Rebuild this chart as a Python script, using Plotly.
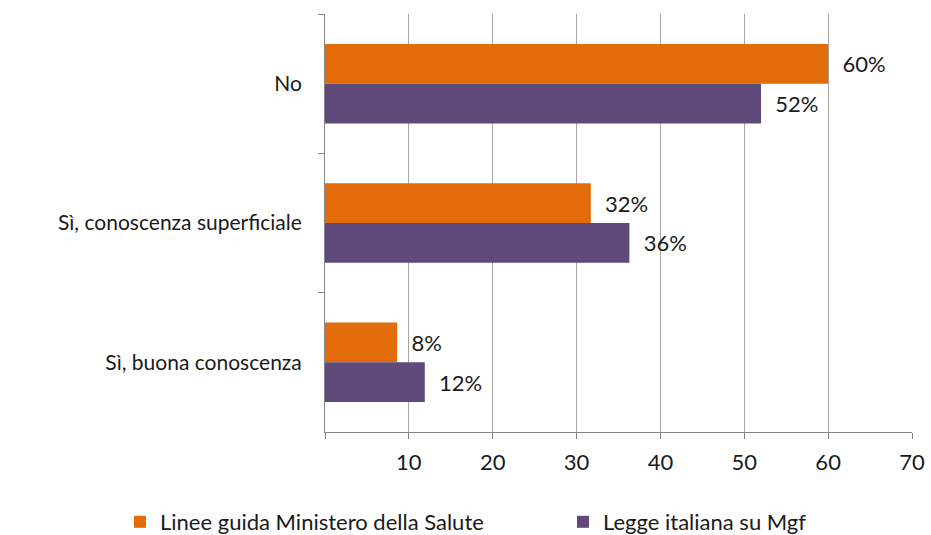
import plotly.graph_objects as go

categories = ["No", "Sì, conoscenza superficiale", "Sì, buona conoscenza"]
series_names = ["Linee guida Ministero della Salute", "Legge italiana su Mgf"]
linee_guida = [60, 31.7, 8.6]
legge = [52, 36.3, 11.9]
linee_guida_labels = ["60%", "32%", "8%"]
legge_labels = ["52%", "36%", "12%"]
x_tickvals = [0, 10, 20, 30, 40, 50, 60, 70]
x_ticktext = ["", "10", "20", "30", "40", "50", "60", "70"]

FONT = "Lato, 'Open Sans', sans-serif"
TXT = "#1a1a1a"
W, H = 931, 535

fig = go.Figure()
fig.add_trace(go.Bar(
    y=categories, x=linee_guida, orientation="h", name=series_names[0],
    marker=dict(color="#E36C0A", line=dict(width=0)),
    text=linee_guida_labels, texttemplate="  %{text}",
    textposition="outside", cliponaxis=False,
    textfont=dict(family=FONT, size=22, color=TXT),
    legend="legend",
))
fig.add_trace(go.Bar(
    y=categories, x=legge, orientation="h", name=series_names[1],
    marker=dict(color="#604A7B", line=dict(width=0)),
    text=legge_labels, texttemplate="  %{text}",
    textposition="outside", cliponaxis=False,
    textfont=dict(family=FONT, size=22, color=TXT),
    legend="legend2",
))

legend_common = dict(
    orientation="h", xref="container", yref="container",
    xanchor="left", y=(H - 522) / H, yanchor="middle",
    font=dict(family=FONT, size=22, color=TXT),
    itemwidth=30, bgcolor="rgba(0,0,0,0)",
)

fig.update_layout(
    width=W, height=H,
    barmode="group", bargap=0.43, bargroupgap=0,
    plot_bgcolor="white", paper_bgcolor="white",
    margin=dict(l=325, r=19, t=14, b=103, autoexpand=False),
    font=dict(family=FONT, size=21, color=TXT),
    showlegend=True,
    legend=dict(legend_common, x=120 / W),
    legend2=dict(legend_common, x=563 / W),
    xaxis=dict(
        range=[0, 70], tickvals=x_tickvals, ticktext=x_ticktext,
        showgrid=True, gridcolor="#a6a6a6", gridwidth=1,
        zeroline=False, showline=True, linecolor="#868686", linewidth=1,
        ticks="outside", ticklen=6, tickcolor="#868686",
        tickfont=dict(family=FONT, size=22, color=TXT),
        ticklabelstandoff=5, automargin=False,
        fixedrange=True,
    ),
    yaxis=dict(
        categoryorder="array", categoryarray=categories, autorange="reversed",
        showline=True, linecolor="#868686", linewidth=1,
        ticks="outside", ticklen=6, tickcolor="#868686", tickson="boundaries",
        showgrid=False, ticklabelstandoff=18, automargin=False,
        tickfont=dict(family=FONT, size=21, color=TXT),
        fixedrange=True,
    ),
)

fig.write_html(
    "out.html",
    config={"displayModeBar": False},
    post_script="document.body.style.margin='0';document.body.style.overflow='hidden';",
)
